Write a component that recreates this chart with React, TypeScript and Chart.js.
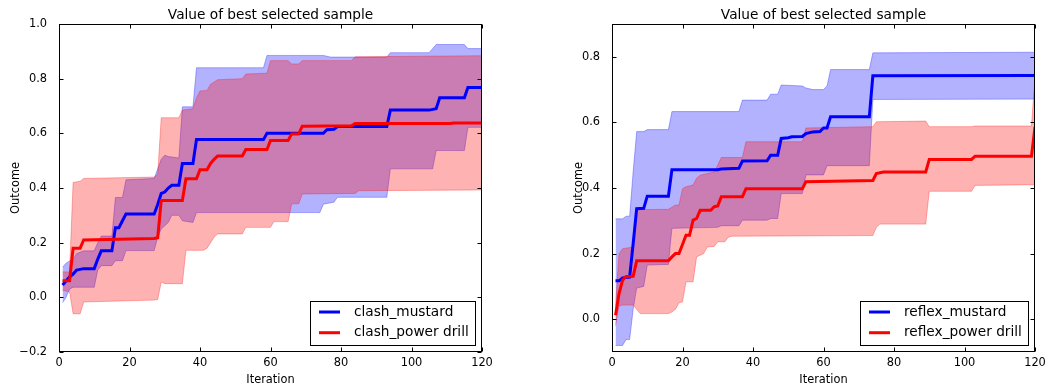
import React, { useEffect, useRef } from 'react';
import { Chart, registerables } from 'chart.js';

Chart.register(...registerables);

type P = [number, number];

// ---------- data: [iteration, value] ----------
const xTicks = [0, 20, 40, 60, 80, 100, 120];
const leftYTicks = [-0.2, 0, 0.2, 0.4, 0.6, 0.8, 1.0];
const rightYTicks = [0, 0.2, 0.4, 0.6, 0.8];

const clashMustardMean: P[] = [[1,0.045],[2,0.06],[3,0.075],[4,0.085],[5,0.1],[7,0.105],[10,0.105],[11,0.14],[12,0.17],[15,0.17],[16,0.255],[17,0.255],[18,0.28],[19,0.305],[27,0.305],[28,0.34],[29,0.38],[30,0.385],[31,0.4],[32,0.41],[34,0.41],[35,0.49],[38,0.49],[39,0.577],[58,0.577],[59,0.6],[75,0.6],[76,0.613],[78,0.615],[79,0.625],[93,0.625],[94,0.685],[105,0.685],[107,0.69],[108,0.73],[115,0.73],[116,0.768],[120,0.768]];
const clashMustardUpper: P[] = [[1,0.11],[2,0.125],[3,0.133],[4,0.14],[5,0.16],[7,0.17],[10,0.17],[11,0.2],[12,0.224],[15,0.224],[16,0.365],[18,0.365],[19,0.43],[27,0.435],[28,0.47],[29,0.505],[30,0.52],[31,0.515],[34,0.51],[35,0.697],[38,0.697],[39,0.84],[58,0.84],[59,0.885],[75,0.885],[77,0.879],[93,0.879],[94,0.895],[105,0.895],[107,0.925],[115,0.925],[116,0.91],[120,0.91]];
const clashMustardLower: P[] = [[1,-0.02],[2,0.0],[3,0.03],[4,0.037],[10,0.037],[11,0.1],[12,0.116],[15,0.116],[16,0.134],[18,0.134],[19,0.171],[27,0.171],[28,0.22],[29,0.25],[31,0.274],[32,0.3],[34,0.3],[35,0.28],[38,0.274],[39,0.31],[74,0.31],[75,0.341],[78,0.348],[79,0.366],[93,0.366],[94,0.47],[106,0.47],[107,0.537],[115,0.537],[116,0.622],[120,0.622]];

const clashDrillMean: P[] = [[1,0.061],[3,0.061],[4,0.18],[6,0.18],[7,0.21],[27,0.215],[28,0.218],[29,0.354],[35,0.354],[36,0.434],[39,0.434],[40,0.467],[42,0.467],[43,0.49],[44,0.505],[45,0.517],[52,0.517],[53,0.541],[59,0.541],[60,0.574],[65,0.574],[66,0.598],[68,0.598],[69,0.626],[83,0.628],[84,0.636],[111,0.636],[112,0.638],[120,0.638]];
const clashDrillUpper: P[] = [[1,0.093],[3,0.093],[4,0.42],[6,0.425],[7,0.435],[27,0.44],[28,0.45],[29,0.657],[34,0.657],[35,0.685],[38,0.69],[39,0.73],[40,0.755],[42,0.757],[43,0.78],[45,0.796],[52,0.8],[53,0.817],[59,0.82],[60,0.866],[65,0.866],[66,0.854],[68,0.854],[69,0.866],[83,0.866],[84,0.88],[120,0.884]];
const clashDrillLower: P[] = [[1,0.026],[3,0.02],[4,-0.06],[6,-0.06],[7,-0.017],[27,-0.01],[28,-0.008],[29,0.056],[30,0.05],[35,0.05],[36,0.172],[41,0.172],[42,0.18],[44,0.22],[45,0.232],[52,0.232],[53,0.256],[60,0.256],[61,0.277],[65,0.277],[66,0.342],[68,0.342],[69,0.378],[84,0.38],[85,0.39],[120,0.393]];

const reflexMustardMean: P[] = [[1,0.117],[2,0.117],[3,0.126],[5,0.128],[6,0.23],[7,0.337],[9,0.338],[10,0.375],[16,0.375],[17,0.456],[30,0.456],[31,0.458],[36,0.46],[37,0.482],[44,0.483],[45,0.5],[47,0.5],[48,0.551],[50,0.553],[51,0.556],[54,0.557],[55,0.566],[57,0.571],[59,0.572],[60,0.583],[61,0.583],[62,0.617],[73,0.617],[74,0.742],[120,0.743]];
const reflexMustardUpper: P[] = [[1,0.306],[3,0.306],[4,0.314],[5,0.314],[6,0.45],[7,0.572],[9,0.572],[10,0.578],[16,0.578],[17,0.633],[36,0.633],[37,0.668],[44,0.668],[45,0.686],[47,0.686],[48,0.714],[54,0.711],[55,0.705],[57,0.7],[60,0.7],[61,0.711],[62,0.761],[73,0.761],[74,0.812],[120,0.814]];
const reflexMustardLower: P[] = [[1,-0.08],[3,-0.08],[4,-0.062],[5,-0.062],[6,0.03],[7,0.095],[9,0.1],[10,0.165],[16,0.167],[17,0.277],[30,0.28],[31,0.285],[36,0.285],[37,0.302],[44,0.302],[45,0.307],[47,0.307],[48,0.383],[54,0.383],[55,0.44],[60,0.44],[61,0.468],[73,0.468],[74,0.67],[120,0.671]];

const reflexDrillMean: P[] = [[1,0.012],[2,0.078],[3,0.119],[4,0.13],[6,0.131],[7,0.178],[16,0.178],[17,0.19],[18,0.2],[19,0.2],[20,0.228],[21,0.256],[22,0.256],[23,0.302],[24,0.307],[25,0.332],[28,0.332],[29,0.343],[30,0.345],[31,0.373],[37,0.373],[38,0.398],[54,0.398],[55,0.419],[74,0.423],[75,0.444],[77,0.449],[89,0.449],[90,0.487],[102,0.487],[103,0.497],[119,0.497],[120,0.587]];
const reflexDrillUpper: P[] = [[1,0.04],[2,0.2],[3,0.215],[6,0.22],[7,0.334],[16,0.335],[18,0.348],[19,0.348],[20,0.398],[21,0.404],[23,0.409],[24,0.43],[25,0.439],[27,0.444],[29,0.449],[30,0.47],[31,0.493],[37,0.493],[38,0.541],[54,0.541],[55,0.583],[74,0.587],[75,0.602],[89,0.604],[90,0.587],[102,0.587],[103,0.589],[119,0.589],[120,0.74]];
const reflexDrillLower: P[] = [[1,-0.02],[2,0.04],[3,0.043],[6,0.043],[8,0.017],[16,0.017],[17,0.022],[18,0.03],[19,0.05],[20,0.053],[21,0.114],[23,0.114],[24,0.19],[26,0.2],[27,0.22],[29,0.222],[30,0.236],[32,0.236],[33,0.25],[34,0.253],[74,0.255],[75,0.28],[76,0.29],[89,0.29],[90,0.39],[102,0.39],[103,0.408],[120,0.41]];

// ---------- styles ----------
const FONT = '"DejaVu Sans", "Liberation Sans", sans-serif';
const BLUE = '#0000ff';
const RED = '#ff0000';
const BLUE_BAND = 'rgba(0,0,255,0.3)';
const RED_BAND = 'rgba(255,0,0,0.3)';
const TICK_SIZE = 11.4;
const BIG_SIZE = 13.7;

const toXY = (p: P[]) => p.map(([x, y]) => ({ x, y }));
const fmtY = (v: number) => {
  const n = Math.abs(v) < 1e-9 ? 0 : v;
  return n.toFixed(1).replace('-', '\u2212');
};

interface Panel {
  title: string;
  mustardLabel: string;
  drillLabel: string;
  mustard: [P[], P[], P[]];
  drill: [P[], P[], P[]];
  yMin: number;
  yMax: number;
  yTicks: number[];
  width: number;
  padLeft: number;
  padRight: number;
  yAxisWidth: number;
  yLabelOffset: number;
}

function decorPlugin(p: Panel) {
  return {
    id: 'decor',
    afterDraw(chart: any) {
      const { ctx, chartArea: a, scales } = chart;
      const xs = scales.x;
      const ys = scales.y;
      const L = Math.round(a.left) + 0.5;
      const R = Math.round(a.right) - 0.5;
      const T = Math.round(a.top) + 0.5;
      const B = Math.round(a.bottom) - 0.5;
      ctx.save();
      ctx.strokeStyle = '#000';
      ctx.lineWidth = 1;
      // inner tick marks
      ctx.beginPath();
      for (const t of xs.ticks) {
        const px = Math.round(xs.getPixelForValue(t.value)) + 0.5;
        ctx.moveTo(px, B); ctx.lineTo(px, B - 4);
        ctx.moveTo(px, T); ctx.lineTo(px, T + 4);
      }
      for (const t of ys.ticks) {
        const py = Math.round(ys.getPixelForValue(t.value)) + 0.5;
        ctx.moveTo(L, py); ctx.lineTo(L + 4, py);
        ctx.moveTo(R, py); ctx.lineTo(R - 4, py);
      }
      ctx.stroke();
      // frame
      ctx.strokeRect(L, T, R - L, B - T);

      // title
      ctx.fillStyle = '#000';
      ctx.font = `${BIG_SIZE}px ${FONT}`;
      ctx.textAlign = 'center';
      ctx.textBaseline = 'alphabetic';
      ctx.fillText(p.title, (a.left + a.right) / 2, a.top - 4.6);

      // axis labels
      ctx.font = `${TICK_SIZE}px ${FONT}`;
      ctx.fillText('Iteration', (a.left + a.right) / 2, a.bottom + 31);
      ctx.save();
      ctx.translate(a.left - p.yLabelOffset, (a.top + a.bottom) / 2);
      ctx.rotate(-Math.PI / 2);
      ctx.textBaseline = 'middle';
      ctx.fillText('Outcome', 0, 0);
      ctx.restore();

      // legend
      ctx.font = `${BIG_SIZE}px ${FONT}`;
      const labels = [p.mustardLabel, p.drillLabel];
      const colors = [BLUE, RED];
      const tw = Math.max(...labels.map((s) => ctx.measureText(s).width));
      const bw = Math.round(43.5 + tw + 6.5);
      const bh = 44;
      const bx = Math.round(a.right - 7 - bw) + 0.5;
      const by = Math.round(a.bottom - 7 - bh) + 0.5;
      ctx.fillStyle = '#fff';
      ctx.fillRect(bx, by, bw, bh);
      ctx.strokeStyle = '#000';
      ctx.lineWidth = 1;
      ctx.strokeRect(bx, by, bw, bh);
      labels.forEach((s, i) => {
        const ry = by + 10.5 + i * 20.7;
        ctx.strokeStyle = colors[i];
        ctx.lineWidth = 3;
        ctx.beginPath();
        ctx.moveTo(bx + 8.5, ry);
        ctx.lineTo(bx + 29.5, ry);
        ctx.stroke();
        ctx.fillStyle = '#000';
        ctx.textAlign = 'left';
        ctx.textBaseline = 'middle';
        ctx.fillText(s, bx + 43.5, ry);
      });
      ctx.restore();
    },
  };
}

function makeConfig(p: Panel): any {
  const mean = (data: P[], color: string, label: string) => ({
    label,
    data: toXY(data),
    borderColor: color,
    backgroundColor: color,
    borderWidth: 3,
    pointRadius: 0,
    fill: false,
  });
  const band = (data: P[], color: string, fill: any) => ({
    data: toXY(data),
    borderColor: color,
    backgroundColor: color,
    borderWidth: 1,
    pointRadius: 0,
    fill,
  });
  return {
    type: 'line',
    data: {
      datasets: [
        mean(p.drill[0], RED, p.drillLabel), // 0 (drawn last)
        mean(p.mustard[0], BLUE, p.mustardLabel), // 1
        band(p.drill[1], RED_BAND, 3), // 2
        band(p.drill[2], RED_BAND, false), // 3
        band(p.mustard[1], BLUE_BAND, 5), // 4
        band(p.mustard[2], BLUE_BAND, false), // 5
      ],
    },
    options: {
      animation: false,
      responsive: false,
      events: [],
      layout: { padding: { left: p.padLeft, right: p.padRight, top: 24, bottom: 0 } },
      elements: { line: { tension: 0 } },
      plugins: {
        legend: { display: false },
        title: { display: false },
        tooltip: { enabled: false },
      },
      scales: {
        x: {
          type: 'linear',
          min: 0,
          max: 120,
          afterBuildTicks: (s: any) => { s.ticks = xTicks.map((v) => ({ value: v })); },
          afterFit: (s: any) => { s.height = 35; },
          ticks: {
            padding: -4,
            maxRotation: 0,
            autoSkip: false,
            color: '#000',
            font: { family: FONT, size: TICK_SIZE },
            callback: (v: any) => String(v),
          },
          grid: { display: false },
          border: { display: false },
        },
        y: {
          type: 'linear',
          min: p.yMin,
          max: p.yMax,
          afterBuildTicks: (s: any) => { s.ticks = p.yTicks.map((v) => ({ value: v })); },
          afterFit: (s: any) => { s.width = p.yAxisWidth; },
          ticks: {
            padding: 4,
            autoSkip: false,
            color: '#000',
            font: { family: FONT, size: TICK_SIZE },
            callback: (v: any) => fmtY(Number(v)),
          },
          grid: { display: false },
          border: { display: false },
        },
      },
    },
    plugins: [decorPlugin(p)],
  };
}

const leftPanel: Panel = {
  title: 'Value of best selected sample',
  mustardLabel: 'clash_mustard',
  drillLabel: 'clash_power drill',
  mustard: [clashMustardMean, clashMustardUpper, clashMustardLower],
  drill: [clashDrillMean, clashDrillUpper, clashDrillLower],
  yMin: -0.2,
  yMax: 1.0,
  yTicks: leftYTicks,
  width: 522,
  padLeft: 0,
  padRight: 40,
  yAxisWidth: 59,
  yLabelOffset: 42.6,
};

const rightPanel: Panel = {
  title: 'Value of best selected sample',
  mustardLabel: 'reflex_mustard',
  drillLabel: 'reflex_power drill',
  mustard: [reflexMustardMean, reflexMustardUpper, reflexMustardLower],
  drill: [reflexDrillMean, reflexDrillUpper, reflexDrillLower],
  yMin: -0.1,
  yMax: 0.9,
  yTicks: rightYTicks,
  width: 523,
  padLeft: 40,
  padRight: 10,
  yAxisWidth: 50,
  yLabelOffset: 33.3,
};

function PanelChart({ panel, left }: { panel: Panel; left: number }) {
  const ref = useRef<HTMLCanvasElement | null>(null);
  useEffect(() => {
    if (!ref.current) return;
    const chart = new Chart(ref.current, makeConfig(panel));
    return () => chart.destroy();
  }, [panel]);
  return (
    <div style={{ position: 'absolute', left, top: 0, width: panel.width, height: 387 }}>
      <canvas ref={ref} width={panel.width} height={387} style={{ display: 'block' }} />
    </div>
  );
}

export default function App() {
  return (
    <div style={{ position: 'fixed', left: 0, top: 0, width: 1045, height: 387, background: '#fff' }}>
      <PanelChart panel={leftPanel} left={0} />
      <PanelChart panel={rightPanel} left={522} />
    </div>
  );
}
